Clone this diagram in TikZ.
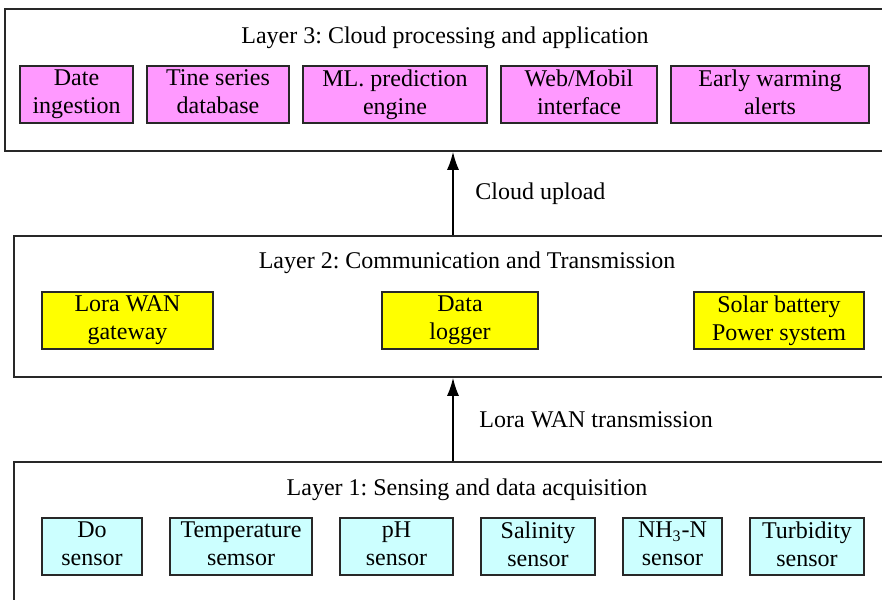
\documentclass[tikz,border=0pt]{standalone}
\usepackage{fontspec}
\setmainfont{Liberation Serif}
\usetikzlibrary{arrows.meta}
\definecolor{LayerThreeColor}{RGB}{255,153,255}
\definecolor{LayerTwoColor}{RGB}{255,255,0}
\definecolor{LayerOneColor}{RGB}{204,255,255}
\definecolor{FrameColor}{RGB}{40,40,40}
\frenchspacing
\begin{document}
\begin{tikzpicture}[x=0.5pt,y=-0.5pt,font=\fontsize{12}{14}\selectfont,
  layer/.style n args={2}{draw=FrameColor,line width=0.8pt,minimum width=#1,minimum height=#2,inner sep=0pt,rectangle},
  part/.style n args={2}{draw=FrameColor,line width=0.8pt,fill=#1,minimum width=#2,minimum height=28.5pt,inner xsep=0pt,inner ysep=-0.6pt,align=center,rectangle,execute at begin node=\rule{0pt}{13pt},execute at end node=\rule[-2.7pt]{0pt}{2.7pt}},
  uparr/.style={draw=black,line width=0.8pt,-{Latex[length=9pt,width=6pt]}}]
\useasboundingbox (0,0) rectangle (882,599);
\clip (0,0) rectangle (882,599);
\node[layer={447.5pt}{71pt}](l3) at(452.5,80) {};
\node[layer={443pt}{70.5pt}](l2) at(457,306.5) {};
\node[layer={443pt}{74pt}](l1) at(457,536) {};
\node(t3) at(445,38) {Layer 3: Cloud processing and application};
\node(t2) at(467,263) {Layer 2: Communication and Transmission};
\node(t1) at(467,490) {Layer 1: Sensing and data acquisition};
\foreach \x/\w/\1 in %
{76.5/56.5pt/{Date\\ingestion},218/71pt/{Tine series\\database},395/92pt/{ML. prediction\\engine},579/78pt/{Web/Mobil\\interface},770/99pt/{Early warming\\alerts}} {
   \node[part={LayerThreeColor}{\w}](c\x) at(\x,94.5) {\1};
}
\foreach \x/\w/\1 in %
{127.5/85.5pt/{Lora WAN\\gateway},460/78pt/{Data\\logger},779/85pt/{Solar battery\\Power system}} {
   \node[part={LayerTwoColor}{\w}](m\x) at(\x,320.5) {\1};
}
\foreach \x/\w/\1 in %
{92/50pt/{Do\\sensor},241/71pt/{Temperature\\semsor},396.5/56.5pt/{pH\\sensor},538/57pt/{Salinity\\sensor},672.5/49.5pt/{NH\textsubscript{3}-N\\sensor},807/57pt/{Turbidity\\sensor}} {
   \node[part={LayerOneColor}{\w}](s\x) at(\x,546.5) {\1};
}
\coordinate(up) at(453,0);
\draw[uparr] (l2.north -| up) -- (l3.south -| up)
   node[midway,right=7.5pt](cloud){Cloud upload};
\draw[uparr] (l1.north -| up) -- (l2.south -| up)
   node[midway,right=9.5pt](lora){Lora WAN transmission};
\end{tikzpicture}
\end{document}
